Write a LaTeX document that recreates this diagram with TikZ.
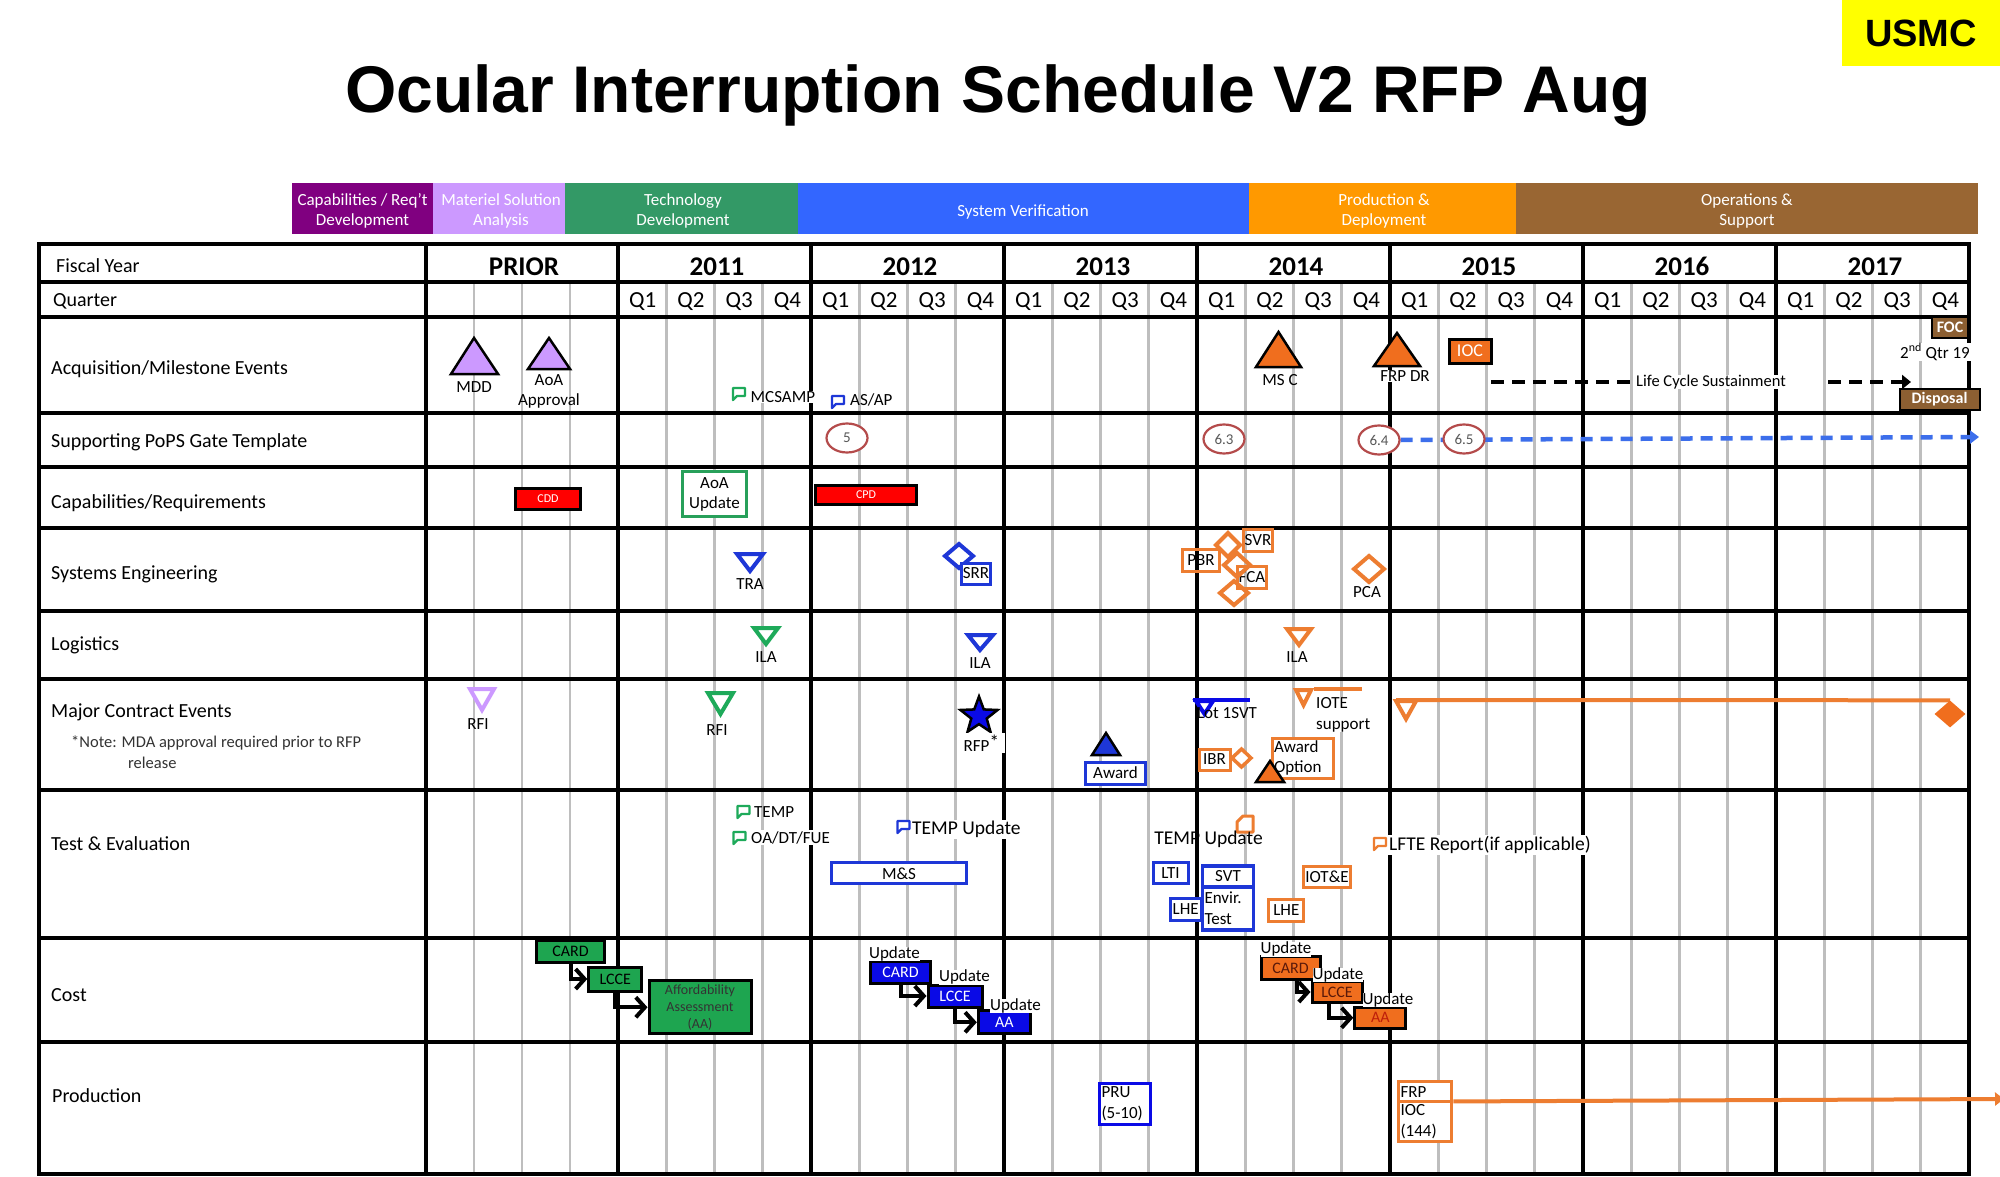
\documentclass[tikz,border=0pt]{standalone}
\usepackage{fontspec}
\setmainfont{Carlito}
\newfontfamily\arialfam{Liberation Sans}
\usetikzlibrary{arrows.meta,shapes.geometric}
\definecolor{phPurple}{RGB}{128,0,128}
\definecolor{phLilac}{RGB}{204,153,255}
\definecolor{phGreen}{RGB}{51,153,102}
\definecolor{phBlue}{RGB}{51,102,255}
\definecolor{phOrange}{RGB}{255,153,0}
\definecolor{phBrown}{RGB}{153,102,51}
\definecolor{lilac}{RGB}{204,153,255}
\definecolor{evGreen}{RGB}{30,170,90}
\definecolor{boxGreen}{RGB}{40,160,90}
\definecolor{evBlue}{RGB}{30,55,215}
\definecolor{pureBlue}{RGB}{10,10,230}
\definecolor{evOrange}{RGB}{237,125,49}
\definecolor{orFill}{RGB}{240,110,30}
\definecolor{popsRed}{RGB}{180,75,75}
\definecolor{popsBlue}{RGB}{60,110,235}
\definecolor{boxBrown}{RGB}{140,95,50}
\definecolor{cardGreen}{RGB}{30,165,80}
\definecolor{qgray}{RGB}{190,190,190}
\definecolor{usmcYellow}{RGB}{255,255,0}
\definecolor{darkOr}{RGB}{90,25,10}
\definecolor{aaRed}{RGB}{190,30,10}
\newcommand\bubbleicon[3]{\draw[shift={(#1,#2)},line width=2.4pt,draw=#3,fill=white,line join=round] (-6,-5) -- (6,-5) -- (6,3) -- (-2,3) -- (-6,7) -- cycle;}
\pgfdeclarelayer{back}
\pgfdeclarelayer{mid}
\pgfsetlayers{back,mid,main}
\begin{document}
\begin{tikzpicture}[x=1pt,y=-1pt,
  grid/.style={line width=4pt,black,line cap=rect},
  qline/.style={line width=2.8pt,qgray},
  rowlbl/.style={anchor=west,inner sep=0pt,font=\fontsize{20}{22}\selectfont},
  yr/.style={inner sep=0pt,font=\bfseries\fontsize{27}{27}\selectfont},
  qt/.style={inner sep=0pt,font=\fontsize{23}{23}\selectfont},
  phtext/.style={text=white,align=center,inner sep=0pt,font=\fontsize{17}{20}\selectfont},
  ev/.style={inner sep=1pt,font=\fontsize{17}{20}\selectfont},
  evw/.style={ev,fill=white},
  bigt/.style={inner sep=1pt,font=\fontsize{19.5}{22}\selectfont},
  box/.style={draw,line width=3pt,fill=white,inner sep=0pt,font=\fontsize{17}{20}\selectfont},
  tri/.style={draw=black,line width=2.5pt,line join=miter},
  dtri/.style={line width=4pt,fill=white,line join=miter},
  dia/.style={line width=4pt,fill=white,line join=miter},
  carr/.style={line width=4pt,black,-{Straight Barb[length=9pt,width=20pt]}},
  gate/.style={ellipse,draw=popsRed,line width=2.2pt,fill=white,minimum width=41pt,minimum height=29pt,inner sep=0pt,text=black!65,font=\fontsize{15}{15}\selectfont},
]
\useasboundingbox (0,0) rectangle (2000,1177);
\begin{pgfonlayer}{back}
\fill[white] (0,0) rectangle (2000,1177);
\foreach \x in {474,522,570} \draw[qline] (\x,282) -- (\x,1174);
\foreach \k in {0,...,6} \foreach \q in {1,2,3} \draw[qline] ({618+193*\k+48.25*\q},282) -- ++(0,892);
\foreach \y in {244,282,317,412.5,467,527.5,611,679,790,937.5,1042,1174} \draw[grid] (39,\y) -- (1969,\y);
\foreach \x in {39,426,618,811,1004,1197,1390,1583,1776,1969} \draw[grid] (\x,244) -- (\x,1174);
\end{pgfonlayer}

% title and tag
\node[inner sep=0pt,anchor=base,font=\arialfam\bfseries\fontsize{66}{66}\selectfont] (title) at (998,113) {Ocular Interruption Schedule V2 RFP Aug};
\fill[usmcYellow] (1842,0) rectangle (2000,66);
\node[inner sep=0pt,font=\arialfam\bfseries\fontsize{38}{38}\selectfont] (usmc) at (1921,33) {USMC};

% phase bar
\fill[phPurple] (292,183) rectangle (433,234);
\fill[phLilac] (433,183) rectangle (565,234);
\fill[phGreen] (565,183) rectangle (798,234);
\fill[phBlue] (798,183) rectangle (1249,234);
\fill[phOrange] (1249,183) rectangle (1516,234);
\fill[phBrown] (1516,183) rectangle (1978,234);
\node[phtext] (phA) at (362.5,211) {Capabilities / Req't\\Development};
\node[phtext] (phB) at (501,211) {Materiel Solution\\Analysis};
\node[phtext] (phC) at (683,211) {Technology\\Development};
\node[phtext] (phD) at (1023,212) {System Verification};
\node[phtext] (phE) at (1384,211) {Production \&\\Deployment};
\node[phtext] (phF) at (1747,211) {Operations \&\\Support};

% row labels
\node[rowlbl] (lFY) at (56,266) {Fiscal Year};
\node[rowlbl] (lQ) at (53,301) {Quarter};
\node[rowlbl] (lAcq) at (51,369) {Acquisition/Milestone Events};
\node[rowlbl] (lPops) at (51,442.5) {Supporting PoPS Gate Template};
\node[rowlbl] (lCap) at (51,503) {Capabilities/Requirements};
\node[rowlbl] (lSE) at (51,574.5) {Systems Engineering};
\node[rowlbl] (lLog) at (51,645) {Logistics};
\node[rowlbl] (lMCE) at (51,712) {Major Contract Events};
\node[anchor=west,inner sep=0pt,text=black!80,font=\fontsize{16.5}{18}\selectfont] (note1) at (71,743) {*Note: MDA approval required prior to RFP};
\node[anchor=west,inner sep=0pt,text=black!80,font=\fontsize{16.5}{18}\selectfont] (note2) at (128,763) {release};
\node[rowlbl] (lTE) at (51,844) {Test \& Evaluation};
\node[rowlbl] (lCost) at (51,995) {Cost};
\node[rowlbl] (lProd) at (52,1096) {Production};

% years and quarters
\node[yr] (yPrior) at (524,266.5) {PRIOR};
\foreach \yy [count=\k from 0] in {2011,...,2017} \node[yr] (y\yy) at ({618+193*\k+99},266.5) {\yy};
\foreach \k in {0,...,6} \foreach \q in {1,...,4} \node[qt] (q\k\q) at ({618+193*\k+48.25*\q-23.5},301.5) {Q\q};

% ---------- Acquisition / Milestone events
\draw[tri,fill=lilac] (474,338) -- (498,374) -- (451,374) -- cycle;
\node[ev] (mdd) at (474,387) {MDD};
\draw[tri,fill=lilac] (549,338) -- (570,369) -- (528,369) -- cycle;
\node[ev,align=center] (aoa) at (549,391) {AoA\\Approval};
\bubbleicon{739}{393}{evGreen}
\node[evw,anchor=west,inner sep=0.5pt] (mcsamp) at (750,397) {MCSAMP};
\bubbleicon{838}{401}{evBlue}
\node[ev,anchor=west] (asap) at (849,400) {AS/AP};
\draw[tri,fill=orFill] (1278.5,332) -- (1301,367) -- (1256,367) -- cycle;
\node[ev] (msc) at (1280,380) {MS C};
\draw[tri,fill=orFill] (1397,333) -- (1420,366) -- (1374,366) -- cycle;
\node[evw] (frpdr) at (1405,376) {FRP DR};
\node[box,draw=black,fill=orFill,text=white,minimum width=42pt,minimum height=24pt,font=\fontsize{18}{18}\selectfont] (ioc) at (1470,351) {IOC};
\node[box,draw=black,line width=2pt,fill=boxBrown,text=white,minimum width=36pt,minimum height=21pt,font=\bfseries\fontsize{16}{16}\selectfont] (foc) at (1950,327) {FOC};
\node[evw] (qtr19) at (1935,352) {2\textsuperscript{nd} Qtr 19};
\node[evw,anchor=west,inner sep=0pt,font=\fontsize{16.5}{18}\selectfont] (lcs) at (1636,382) {Life Cycle Sustainment};
\coordinate (lcsA) at (1491,382);
\coordinate (lcsB) at (1828,382);
\coordinate (lcsE) at (1911,382);
\begin{pgfonlayer}{mid}
\draw[line width=4.5pt,dash pattern=on 13pt off 8pt] (lcsA) -- (lcs.west);
\draw[line width=4.5pt,dash pattern=on 13pt off 8pt,-{Triangle[length=9pt,width=14pt]}] (lcsB) -- (lcsE);
\end{pgfonlayer}
\node[box,draw=black,line width=2pt,fill=boxBrown,text=white,minimum width=80pt,minimum height=21pt,font=\bfseries\fontsize{16}{16}\selectfont] (disposal) at (1939.5,399.5) {Disposal};

% ---------- PoPS gates
\node[gate] (g5) at (847,438) {5};
\node[gate] (g63) at (1224,439) {6.3};
\node[gate] (g64) at (1379,440) {6.4};
\node[gate] (g65) at (1464,439) {6.5};
\coordinate (popsEnd) at (1979,437);
\begin{pgfonlayer}{mid}
\draw[popsBlue,line width=4.5pt,dash pattern=on 12pt off 8pt,-{Triangle[length=9pt,width=13pt]}] (g64.east) -- (popsEnd);
\end{pgfonlayer}

% ---------- Capabilities / Requirements
\node[box,draw=black,line width=2.5pt,fill=red,text=white,minimum width=65pt,minimum height=21pt,font=\fontsize{12}{12}\selectfont] (cdd) at (548,499) {CDD};
\node[box,draw=boxGreen,align=center,minimum width=64pt,minimum height=45pt] (aoaUpd) at (714.5,494) {AoA\\Update};
\node[box,draw=black,line width=2.5pt,fill=red,text=white,minimum width=101pt,minimum height=19pt,font=\fontsize{12}{12}\selectfont] (cpd) at (866,495) {CPD};

% ---------- Systems engineering
\draw[dtri,draw=evBlue] (737,554) -- (763,554) -- (750,571) -- cycle;
\node[ev] (tra) at (750,584) {TRA};
\draw[dia,draw=evBlue] (959,544) -- (973,556) -- (959,568) -- (945,556) -- cycle;
\node[box,draw=evBlue,minimum width=29pt,minimum height=21pt] (srr) at (976,573.5) {SRR};
\node[box,draw=evOrange,fill=none,minimum width=29pt,minimum height=22pt] (svr) at (1258,540) {SVR};
\node[box,draw=evOrange,fill=none,minimum width=37pt,minimum height=22pt] (pbr) at (1201,560) {PBR};
\node[box,draw=evOrange,fill=none,minimum width=29pt,minimum height=22pt] (fca) at (1252,577) {FCA};
\draw[dia,draw=evOrange,fill=none] (1228,533) -- (1240,545) -- (1228,557) -- (1216,545) -- cycle;
\draw[dia,draw=evOrange,fill=none] (1237,553) -- (1250,565) -- (1237,577) -- (1224,565) -- cycle;
\draw[dia,draw=evOrange,fill=none] (1234,581) -- (1248,593) -- (1234,605) -- (1220,593) -- cycle;
\draw[dia,draw=evOrange] (1369,556) -- (1384,569) -- (1369,582) -- (1354,569) -- cycle;
\node[ev] (pca) at (1367,592) {PCA};

% ---------- Logistics
\draw[dtri,draw=evGreen] (754,628) -- (778,628) -- (766,644) -- cycle;
\node[ev] (ilaG) at (766,657) {ILA};
\draw[dtri,draw=evBlue] (968,635) -- (993,635) -- (980,650) -- cycle;
\node[ev] (ilaB) at (980,663) {ILA};
\draw[dtri,draw=evOrange] (1287,629) -- (1311,629) -- (1299,645) -- cycle;
\node[ev] (ilaO) at (1297,657) {ILA};

% ---------- Major contract events
\draw[dtri,draw=lilac] (470,689) -- (494,689) -- (482,710) -- cycle;
\node[ev] (rfiP) at (478,724) {RFI};
\draw[dtri,draw=evGreen] (708,693) -- (733,693) -- (720.5,714) -- cycle;
\node[ev] (rfiG) at (717,730) {RFI};
\node[star,star points=5,star point ratio=2.4,draw=black,line width=2.5pt,fill=pureBlue,minimum size=39pt,inner sep=0pt] (rfpStar) at (979,716) {};
\node[evw,anchor=west,text width=40pt,align=left,inner sep=1.5pt] (rfp) at (962,743) {RFP\raisebox{3pt}{\fontsize{19}{19}\selectfont *}};
\draw[tri,fill=evBlue] (1106,733) -- (1120,755) -- (1092,755) -- cycle;
\node[box,draw=evBlue,minimum width=60pt,minimum height=22pt] (award) at (1115.5,773) {Award};
\coordinate (lotA) at (1193,700);
\coordinate (lotB) at (1250,700);
\begin{pgfonlayer}{mid}
\draw[pureBlue,line width=4pt] (lotA) -- (lotB);
\end{pgfonlayer}
\draw[dtri,draw=pureBlue,fill=none] (1196,701) -- (1213,701) -- (1204.5,714) -- cycle;
\node[ev] (lot) at (1227,713) {Lot 1SVT};
\draw[dtri,draw=evOrange] (1296,690) -- (1311,690) -- (1303.5,705) -- cycle;
\coordinate (ioteA) at (1314,689);
\coordinate (ioteB) at (1362,689);
\draw[evOrange,line width=4.5pt] (ioteA) -- (ioteB);
\node[evw,anchor=north west,align=left,inner sep=0pt,font=\fontsize{17}{21}\selectfont] (iote) at (1316,697) {IOTE\\support};
\node[box,draw=evOrange,minimum width=31pt,minimum height=21pt] (ibr) at (1214.5,759.5) {IBR};
\draw[dia,draw=evOrange,line width=3.5pt] (1241.5,749) -- (1251,758) -- (1241.5,767) -- (1232,758) -- cycle;
\node[box,draw=evOrange,text width=57pt,align=left,minimum height=40pt,inner xsep=2pt] (awardOpt) at (1302.5,758) {Award\\Option};
\draw[tri,fill=orFill] (1270,761) -- (1284,782) -- (1256,782) -- cycle;
\node[diamond,fill=orFill,minimum width=31pt,minimum height=27pt,inner sep=0pt] (mceEnd) at (1950,714) {};
\coordinate (mceA) at (1396,700);
\begin{pgfonlayer}{mid}
\draw[evOrange,line width=4pt] (mceA) -- (mceEnd.north);
\end{pgfonlayer}
\draw[dtri,draw=evOrange] (1396,701) -- (1416,701) -- (1406,719) -- cycle;

% ---------- Test & Evaluation
\bubbleicon{743.5}{811}{evGreen}
\node[ev,anchor=west] (temp) at (753,812) {TEMP};
\bubbleicon{739.5}{837}{evGreen}
\node[evw,anchor=west] (oadt) at (750,837.5) {OA/DT/FUE};
\bubbleicon{903.5}{826}{evBlue}
\node[bigt,fill=white,anchor=west] (tempUpd) at (911,829.5) {TEMP Update};
\node[box,draw=evBlue,minimum width=135pt,minimum height=21pt] (ms) at (899,873.3) {M\&S};
\draw[line width=3pt,draw=evOrange,fill=white,line join=round] (1237,822) -- (1243,816) -- (1253,816) -- (1253,832) -- (1237,832) -- cycle;
\node[bigt] (tempUpd2) at (1208.5,839) {TEMP Update};
\bubbleicon{1380}{843}{evOrange}
\node[bigt,fill=white,anchor=west] (lfte) at (1388,845) {LFTE Report(if applicable)};
\node[box,draw=evBlue,minimum width=35pt,minimum height=21pt] (lti) at (1170.5,873.3) {LTI};
\node[box,draw=evBlue,line width=3.5pt,minimum width=51pt,minimum height=20.5pt] (svt) at (1228,876.3) {SVT};
\node[box,draw=evBlue,line width=3.5pt,text width=47pt,align=left,minimum height=43pt,inner xsep=2pt,font=\fontsize{17}{21}\selectfont] (envir) at (1228,908.3) {Envir.\\Test};
\node[box,draw=evBlue,minimum width=31pt,minimum height=22pt] (lheB) at (1185.7,909.5) {LHE};
\node[box,draw=evOrange,minimum width=35pt,minimum height=22pt] (lheO) at (1286.3,910) {LHE};
\node[box,draw=evOrange,minimum width=47pt,minimum height=21pt] (iote2) at (1327,876.7) {IOT\&E};

% ---------- Cost
\node[box,draw=black,fill=cardGreen,minimum width=68pt,minimum height=22pt,font=\fontsize{16}{16}\selectfont] (gCard) at (570.5,951) {CARD};
\node[box,draw=black,fill=cardGreen,minimum width=53pt,minimum height=24pt,font=\fontsize{16}{16}\selectfont] (gLcce) at (615.3,979) {LCCE};
\node[box,draw=black,fill=cardGreen,minimum width=102pt,minimum height=53pt,align=center,text=black!80,font=\fontsize{14}{17}\selectfont] (gAA) at (700,1007.3) {Affordability\\Assessment\\(AA)};
\begin{pgfonlayer}{mid}
\draw[carr] (gCard.south) |- (gLcce.west);
\draw[carr] (gLcce.south) |- (gAA.west);
\end{pgfonlayer}

\node[box,draw=black,fill=pureBlue,text=white,minimum width=60pt,minimum height=22pt,font=\fontsize{16}{16}\selectfont] (bCard) at (900.5,972) {CARD};
\node[box,draw=black,fill=pureBlue,text=white,minimum width=54pt,minimum height=22pt,font=\fontsize{16}{16}\selectfont] (bLcce) at (955,996) {LCCE};
\node[box,draw=black,fill=pureBlue,text=white,minimum width=52pt,minimum height=23pt,font=\fontsize{16}{16}\selectfont] (bAA) at (1004.3,1022.3) {AA};
\node[evw,inner sep=0pt] (bU1) at (894.5,954) {Update};
\node[evw,inner sep=0pt] (bU2) at (964.5,977.3) {Update};
\node[evw,inner sep=0pt] (bU3) at (1015.5,1006) {Update};
\begin{pgfonlayer}{mid}
\draw[carr] (bCard.south) |- (bLcce.west);
\draw[carr] (bLcce.south) |- (bAA.west);
\end{pgfonlayer}

\node[box,draw=black,fill=orFill,text=darkOr,minimum width=59pt,minimum height=23pt,font=\fontsize{16}{16}\selectfont] (oCard) at (1290.5,968.3) {CARD};
\node[box,draw=black,fill=orFill,text=darkOr,minimum width=50pt,minimum height=21pt,font=\fontsize{16}{16}\selectfont] (oLcce) at (1337,992) {LCCE};
\node[box,draw=black,fill=orFill,text=aaRed,minimum width=51pt,minimum height=21pt,font=\fontsize{16}{16}\selectfont] (oAA) at (1380.3,1017.8) {AA};
\node[evw,inner sep=0pt] (oU1) at (1286,949.3) {Update};
\node[evw,inner sep=0pt] (oU2) at (1338,975) {Update};
\node[evw,inner sep=0pt] (oU3) at (1388,1000) {Update};
\begin{pgfonlayer}{mid}
\draw[carr] ([xshift=6pt]oCard.south) |- (oLcce.west);
\draw[carr] ([xshift=-8pt]oLcce.south) |- (oAA.west);
\end{pgfonlayer}

% ---------- Production
\node[box,draw=pureBlue,text width=47pt,align=left,minimum height=41pt,inner xsep=2pt,font=\fontsize{17}{21}\selectfont] (pru) at (1125,1103.5) {PRU\\(5-10)};
\node[box,draw=evOrange,line width=3.5pt,text width=49pt,align=left,minimum height=20pt,inner xsep=2pt] (frpTop) at (1425,1091.7) {FRP};
\node[box,draw=evOrange,line width=3.5pt,text width=49pt,align=left,minimum height=40pt,inner xsep=2pt,font=\fontsize{17}{21}\selectfont] (frpBot) at (1425,1121.7) {IOC\\(144)};
\coordinate (prodEnd) at (2004,1099);
\begin{pgfonlayer}{mid}
\draw[evOrange,line width=4pt,-{Triangle[length=9pt,width=13pt]}] (frpTop.south east) ++(0,-2) -- (prodEnd);
\end{pgfonlayer}
\end{tikzpicture}
\end{document}
